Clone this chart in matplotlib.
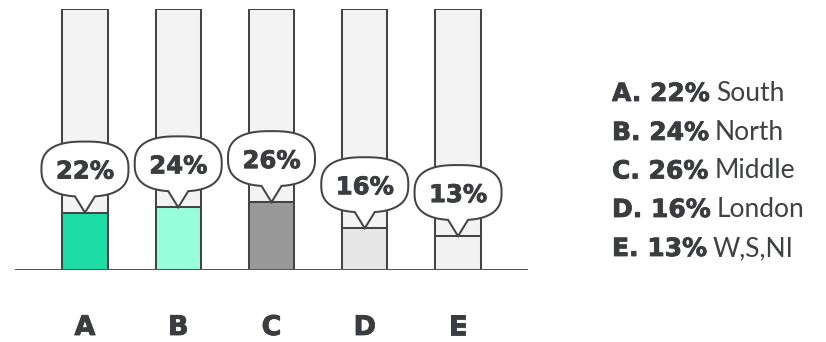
import numpy as np
import matplotlib
matplotlib.use("Agg")
import matplotlib.pyplot as plt
from matplotlib.path import Path
from matplotlib.patches import PathPatch
import matplotlib.transforms as mtransforms
import matplotlib.patheffects as pe

categories = ["A", "B", "C", "D", "E"]
values = [22, 24, 26, 16, 13]
regions = ["South", "North", "Middle", "London", "W,S,NI"]
fill_colors = ["#1edca6", "#96fedb", "#999999", "#e7e7e7", "#f2f2f2"]

DARK = "#3a3c3f"
EDGE = "#444444"
BOLD = ["DejaVu Sans"]
REG = ["Lato", "DejaVu Sans"]
thick = [pe.withStroke(linewidth=0.6, foreground=DARK)]

W, H, DPI = 826, 342, 100
fig = plt.figure(figsize=(W / DPI, H / DPI), dpi=DPI)
ax = fig.add_axes([15 / W, (H - 270) / H, (528 - 15) / W, (270 - 9) / H])
ax.set_xlim(-0.75, 4.75)
ax.set_ylim(0, 100)
ax.axis("off")

x = np.arange(len(categories))
lw = 1.45

# full-height track behind each bar
ax.bar(x, [100] * len(x), width=0.485, color="#f3f3f3", edgecolor=EDGE,
       linewidth=lw, zorder=1)
# value fill
ax.bar(x, values, width=0.485, color=fill_colors, edgecolor=EDGE,
       linewidth=lw, zorder=2)
ax.axhline(0, color="#555555", linewidth=lw, zorder=3, xmin=0, xmax=1)


def bubble_path(a=43.5, b=27.5, tail_h=16.0, tail_hw=10.0, n=2.6, npts=200):
    """Speech bubble in pixel units, tail tip at the origin (y up)."""
    cy = tail_h + b
    delta = np.arcsin((tail_hw / a) ** (n / 2))
    t = np.linspace(-np.pi / 2 + delta, 3 * np.pi / 2 - delta, npts)
    c, s = np.cos(t), np.sin(t)
    px = a * np.sign(c) * np.abs(c) ** (2 / n)
    py = cy + b * np.sign(s) * np.abs(s) ** (2 / n)
    verts = [(0.0, 0.0)] + list(zip(px, py)) + [(0.0, 0.0)]
    codes = [Path.MOVETO] + [Path.LINETO] * (len(verts) - 2) + [Path.CLOSEPOLY]
    return Path(verts, codes)


bp = bubble_path()
for xi, v in zip(x, values):
    anchor = mtransforms.ScaledTranslation(xi, v, ax.transData)
    patch = PathPatch(bp, facecolor="white", edgecolor=EDGE, linewidth=lw,
                      transform=mtransforms.IdentityTransform() + anchor,
                      zorder=5, clip_on=False)
    ax.add_patch(patch)
    ax.annotate(f"{v}%", xy=(xi, v), xytext=(0, 34), textcoords="offset pixels",
                ha="center", va="baseline", fontsize=17.5, fontweight="bold",
                family=BOLD, color=DARK, zorder=6, path_effects=thick)

# category letters under the axis
for xi, c in zip(x, categories):
    ax.annotate(c, xy=(xi, 0), xytext=(0, -65), textcoords="offset pixels",
                ha="center", va="baseline", fontsize=19.5, fontweight="bold",
                family=BOLD, color=DARK, annotation_clip=False,
                path_effects=thick)

# key on the right
fig.canvas.draw()
renderer = fig.canvas.get_renderer()
x0 = 612
baselines = [101, 140, 178.5, 217, 256]
for c, v, r, yb in zip(categories, values, regions, baselines):
    t1 = fig.text(x0 / W, 1 - yb / H, f"{c}. {v}%", ha="left", va="baseline",
                  fontsize=18, fontweight="bold", family=BOLD, color=DARK,
                  path_effects=thick)
    bb = t1.get_window_extent(renderer)
    fig.text((bb.x1 + 6) / W, 1 - yb / H, r, ha="left", va="baseline",
             fontsize=19, fontweight="normal", family=REG, color="#3f4144")

fig.savefig("out.png", dpi=DPI)
